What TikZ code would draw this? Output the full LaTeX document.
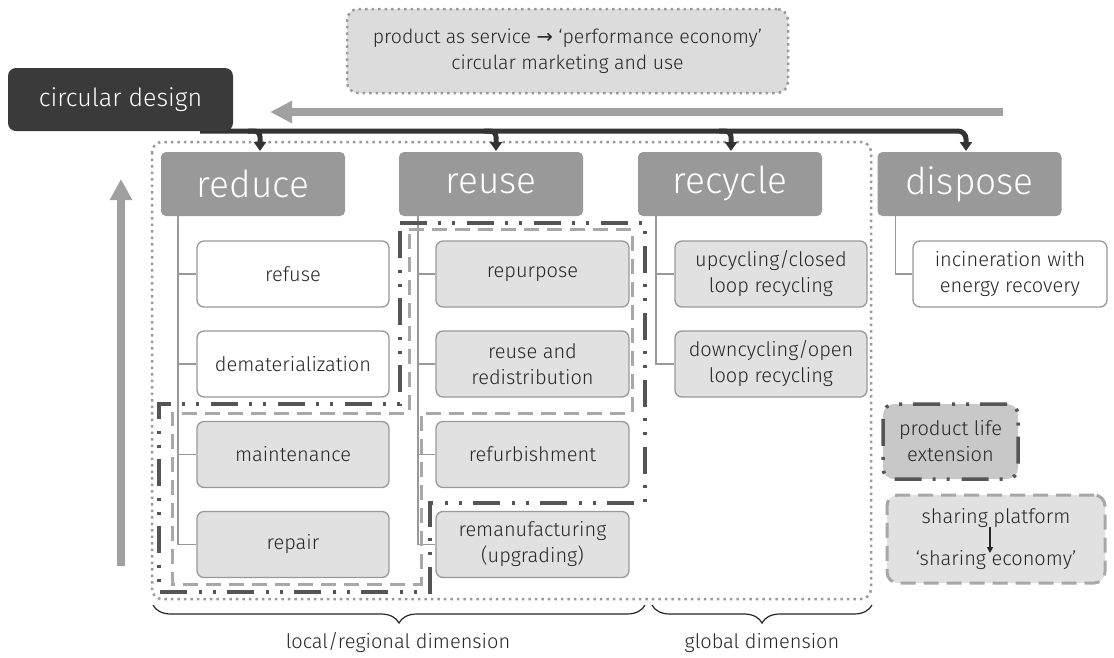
\documentclass[tikz,border=0pt]{standalone}
\usepackage{fontspec}
\setmainfont{Fira Sans}[UprightFont={* Light}]
\newfontfamily\symbfont{DejaVu Sans}
\usetikzlibrary{arrows.meta,decorations.pathreplacing}
\definecolor{headgray}{HTML}{999999}
\definecolor{boxline}{HTML}{999999}
\definecolor{boxfill}{HTML}{E1E1E1}
\definecolor{txt}{HTML}{262626}
\definecolor{busc}{HTML}{333333}
\definecolor{cdfill}{HTML}{3A3A3A}
\definecolor{arrowgray}{HTML}{A0A0A0}
\definecolor{dotgray}{HTML}{9A9A9A}
\definecolor{dddark}{HTML}{555555}
\definecolor{dashlight}{HTML}{A8A8A8}
\definecolor{topfill}{HTML}{DCDCDC}
\definecolor{plefill}{HTML}{C8C8C8}
\tikzset{
  headbox/.style={fill=headgray, rounded corners=5pt, minimum width=184pt, minimum height=64pt, inner sep=0pt, text=white, font=\fontsize{37}{40}\selectfont},
  subw/.style={draw=boxline, line width=1.3pt, fill=white, rounded corners=7pt, minimum width=192pt, minimum height=66pt, inner sep=0pt, text=txt, align=center, font=\fontsize{20}{26}\selectfont},
  subg/.style={subw, fill=boxfill},
  treeline/.style={draw=boxline, line width=1.5pt},
  dotline/.style={draw=dotgray, line width=2.5pt, dash pattern=on 2.5pt off 4pt},
  ddline/.style={draw=dddark, line width=3.5pt, dash pattern=on 27pt off 11pt on 3pt off 11pt on 3pt off 12pt},
  gdline/.style={draw=dashlight, line width=3pt, dash pattern=on 15pt off 8pt},
  busline/.style={draw=busc, line width=5pt},
  bustip/.style={-{Triangle[length=9pt,width=12pt]}},
  bigarrow/.style={draw=arrowgray, line width=8pt},
  lbl/.style={text=txt, font=\fontsize{20}{26}\selectfont, align=center, inner sep=0pt},
}
\begin{document}
\begin{tikzpicture}[x=1pt,y=-1pt]
\useasboundingbox (0,0) rectangle (1114,657);
\fill[white] (0,0) rectangle (1114,657);

% big dotted frame
\draw[dotline, rounded corners=10pt] (152,142) rectangle (871,599);

% top box
\node[dotline, fill=topfill, rounded corners=11pt, minimum width=441pt, minimum height=84pt, lbl, font=\fontsize{19.5}{26}\selectfont] (pas) at (567.5,51)
  {product as service {\symbfont →} ‘performance economy’\\circular marketing and use};

% big gray horizontal arrow
\coordinate (gaS) at (1003,112);
\coordinate (gaE) at (270,112);
\draw[bigarrow, -{Triangle[length=22pt,width=21pt]}] (gaS) -- (gaE);

% big gray vertical arrow
\coordinate (vaS) at (121,566);
\coordinate (vaE) at (121,179);
\draw[bigarrow, -{Triangle[length=21pt,width=21pt]}] (vaS) -- (vaE);

% bus from circular design
\coordinate (bus0) at (200,131);
\coordinate (busR) at (260,131);
\coordinate (busU) at (496,131);
\coordinate (busC) at (731,131);
\coordinate (busD) at (966,131);
\draw[busline, rounded corners=8pt, bustip] (bus0) -- (busD) -- (busD |- 0,151);
\draw[busline, rounded corners=6pt, bustip] ([xshift=-12pt]busR) -- (busR) -- (busR |- 0,151);
\draw[busline, rounded corners=6pt, bustip] ([xshift=-12pt]busU) -- (busU) -- (busU |- 0,151);
\draw[busline, rounded corners=6pt, bustip] ([xshift=-12pt]busC) -- (busC) -- (busC |- 0,151);

% circular design
\node[fill=cdfill, rounded corners=8pt, minimum width=225pt, minimum height=63pt, inner sep=0pt, text=white, font=\fontsize{25}{30}\selectfont] (cd) at (120.5,99.5) {circular design};

% head boxes
\node[headbox] (reduce) at (253,184) {reduce};
\node[headbox] (reuse) at (491,184) {reuse};
\node[headbox] (recycle) at (730,184) {recycle};
\node[headbox] (dispose) at (969.5,184) {dispose};

% sub boxes
\node[subw] (refuse) at (293,274) {refuse};
\node[subw] (demat) at (293,364) {dematerialization};
\node[subg] (maint) at (293,454.5) {maintenance};
\node[subg] (repair) at (293,544.5) {repair};
\node[subg, minimum width=193pt] (repurp) at (532.5,274) {repurpose};
\node[subg, minimum width=193pt] (redist) at (532.5,364) {reuse and\\redistribution};
\node[subg, minimum width=193pt] (refurb) at (532.5,454.5) {refurbishment};
\node[subg, minimum width=193pt] (reman) at (532.5,544.5) {remanufacturing\\(upgrading)};
\node[subg] (upcyc) at (771,274) {upcycling/closed\\loop recycling};
\node[subg] (downcyc) at (771,364) {downcycling/open\\loop recycling};
\node[subw, minimum width=194pt] (incin) at (1010,274) {incineration with\\energy recovery};

% tree lines
\draw[treeline] ([xshift=17pt]reduce.south west) |- (refuse.west);
\draw[treeline] ([xshift=17pt]reduce.south west) |- (demat.west);
\draw[treeline] ([xshift=17pt]reduce.south west) |- (maint.west);
\draw[treeline] ([xshift=17pt]reduce.south west) |- (repair.west);
\draw[treeline] ([xshift=19pt]reuse.south west) |- (repurp.west);
\draw[treeline] ([xshift=19pt]reuse.south west) |- (redist.west);
\draw[treeline] ([xshift=19pt]reuse.south west) |- (refurb.west);
\draw[treeline] ([xshift=19pt]reuse.south west) |- (reman.west);
\draw[treeline] ([xshift=18pt]recycle.south west) |- (upcyc.west);
\draw[treeline] ([xshift=18pt]recycle.south west) |- (downcyc.west);
\draw[treeline] ([xshift=18pt]dispose.south west) |- (incin.west);

% product life extension outline
\draw[ddline] (400,223) -- (645,223) -- (645,503) -- (430,503) -- (430,592) -- (159,592) -- (159,404) -- (400,404) -- cycle;
% sharing platform outline
\draw[gdline] (409,229) -- (632,229) -- (632,413) -- (421,413) -- (421,584) -- (172,584) -- (172,413) -- (409,413) -- cycle;

% legend
\node[ddline, fill=plefill, rounded corners=11pt, minimum width=135pt, minimum height=75pt, lbl] (ple) at (950.5,441.5) {product life\\extension};
\node[gdline, fill=boxfill, rounded corners=11pt, minimum width=218pt, minimum height=88pt, inner sep=0pt] (spbox) at (996,539) {};
\node[lbl] (sp1) at (996,518) {sharing platform};
\node[lbl] (sp2) at (996,560) {‘sharing economy’};
\coordinate (spA) at (990,527);
\coordinate (spB) at (990,553);
\draw[txt, line width=1.3pt, -{Triangle[length=6pt,width=6pt]}] (spA) -- (spB);

% braces
\coordinate (b1a) at (153,605);
\coordinate (b1b) at (645,605);
\coordinate (b2a) at (652,605);
\coordinate (b2b) at (872,605);
\draw[txt, line width=1.2pt, decorate, decoration={brace, mirror, amplitude=18pt}] (b1a) -- (b1b);
\draw[txt, line width=1.2pt, decorate, decoration={brace, mirror, amplitude=18pt}] (b2a) -- (b2b);
\node[lbl] (local) at (398,643) {local/regional dimension};
\node[lbl] (global) at (762,643) {global dimension};
\end{tikzpicture}
\end{document}
